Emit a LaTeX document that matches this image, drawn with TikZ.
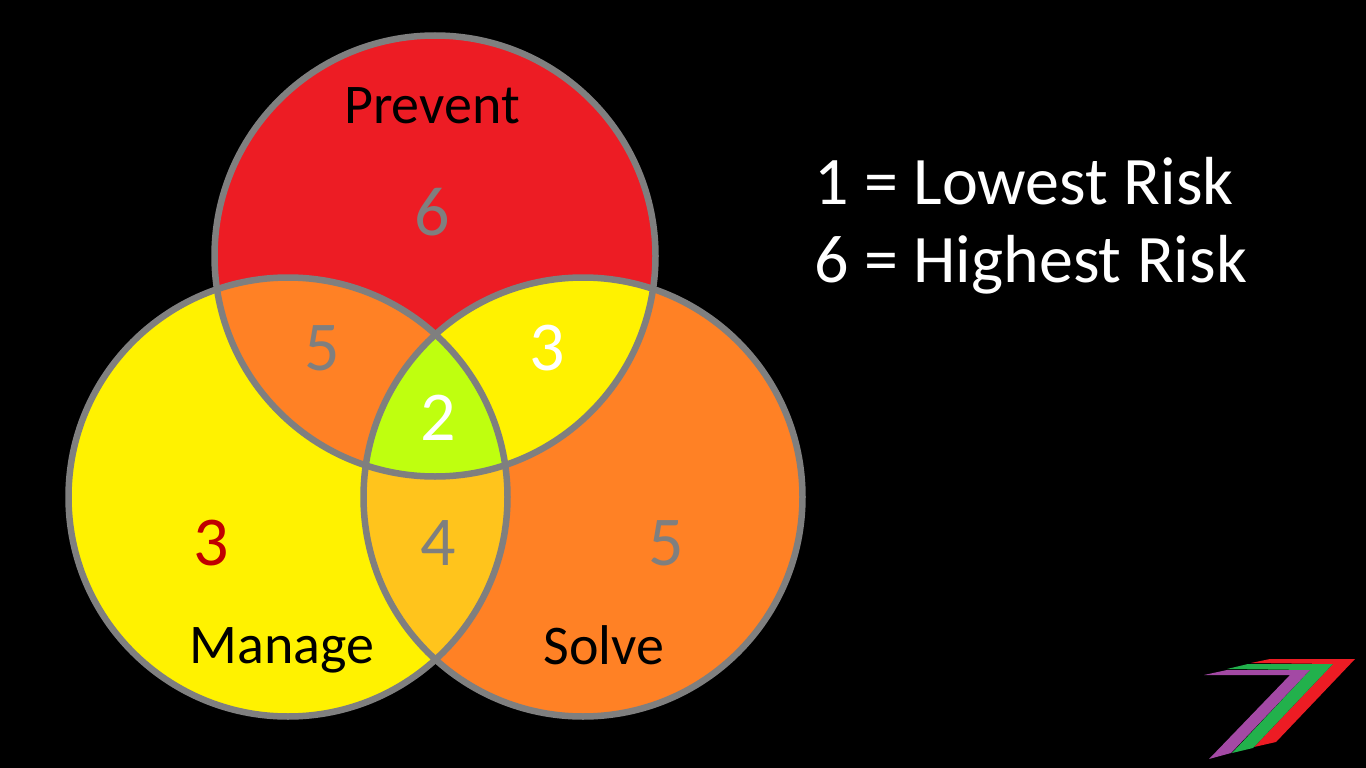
\documentclass[tikz,border=0pt]{standalone}
\usepackage{fontspec}
\setmainfont{Carlito}
\definecolor{vred}{HTML}{ED1C24}
\definecolor{vorange}{HTML}{FF8125}
\definecolor{vyellow}{HTML}{FFF200}
\definecolor{vlime}{HTML}{BFFF0F}
\definecolor{vamber}{HTML}{FFC41C}
\definecolor{vgray}{HTML}{7F7F7F}
\definecolor{vdarkred}{HTML}{C00000}
\definecolor{lpurple}{HTML}{A349A4}
\definecolor{lgreen}{HTML}{22B14C}
\newcommand{\topc}{(435,256) circle (220.5)}
\newcommand{\leftc}{(288,497) circle (219.5)}
\newcommand{\rightc}{(583,497) circle (219.5)}
\tikzset{
  label/.style={text=black,font=\fontsize{56}{56}\selectfont},
  num/.style={text=vgray,font=\fontsize{70}{70}\selectfont},
  legend/.style={text=white,font=\fontsize{68}{68}\selectfont,anchor=west},
  ring/.style={draw=vgray,line width=6.5pt}
}
\begin{document}
\begin{tikzpicture}[x=1pt,y=-1pt]
\fill[black] (0,0) rectangle (1366,768);
\useasboundingbox (0,0) rectangle (1366,768);
% one colour per circle
\fill[vred] \topc;
\fill[vyellow] \leftc;
\fill[vorange] \rightc;
% overlaps
\begin{scope}
\clip \topc;
\fill[vorange] \leftc;
\fill[vyellow] \rightc;
\end{scope}
\begin{scope}
\clip \leftc;
\fill[vamber] \rightc;
\clip \rightc;
\fill[vlime] \topc;
\end{scope}
\draw[ring] \topc;
\draw[ring] \leftc;
\draw[ring] \rightc;
\node[style=label] (prevent) at (432,106) {Prevent};
\node[style=label] (manage) at (282,650) {Manage};
\node[style=label] (solve) at (604,645) {Solve};
\node[num] (top) at (432,212) {6};
\node[num] (topleft) at (322,348) {5};
\node[num,text=white] (topright) at (547,348) {3};
\node[num,text=white] (middle) at (438,418) {2};
\node[num,text=vdarkred] (lefta) at (211,543) {3};
\node[num] (bottom) at (438,543) {4};
\node[num] (righta) at (666,543) {5};
\node[legend] (lowest) at (811,181) {1 = Lowest Risk};
\node[legend] (highest) at (811,265) {6 = Highest Risk};
% logo
\fill[vred] (1251,663) -- (1270,659) -- (1355,659) -- (1276,742) -- (1254,747) -- (1333,664) -- cycle;
\fill[lgreen] (1227,669) -- (1248,664) -- (1333,664) -- (1253,748) -- (1232,753) -- (1310,670) -- cycle;
\fill[lpurple] (1204,675) -- (1227,670) -- (1310,670) -- (1231,753) -- (1209,759) -- (1290,675) -- cycle;
\end{tikzpicture}
\end{document}
